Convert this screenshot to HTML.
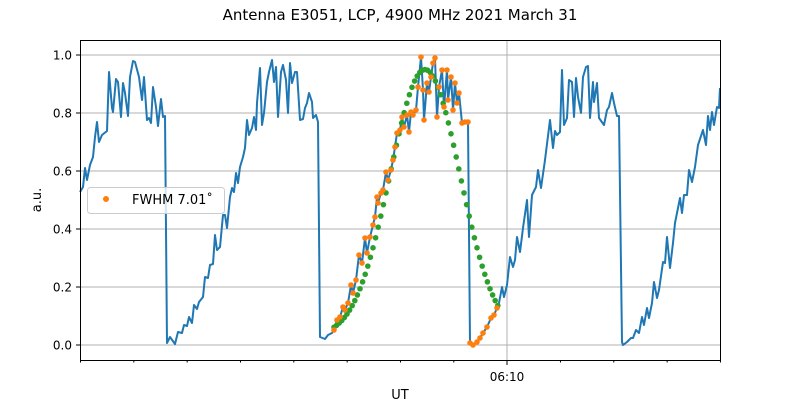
<!DOCTYPE html>
<html><head><meta charset="utf-8"><style>
html,body{margin:0;padding:0;background:#fff;}
svg{display:block;font-family:"DejaVu Sans","Liberation Sans",sans-serif;}
</style></head><body>
<svg id="s" width="800" height="400" viewBox="0 0 800 400" xmlns="http://www.w3.org/2000/svg">
<rect width="800" height="400" fill="#fff"/>
<text x="400" y="20" font-size="15" text-anchor="middle">Antenna E3051, LCP, 4900 MHz 2021 March 31</text>
<g id="grid" stroke="#b0b0b0" stroke-width="1"></g>
<g id="data"></g>
<rect x="80.5" y="40.5" width="640" height="320" fill="none" stroke="#000" stroke-width="1"/>
<g id="ticks" stroke="#000" stroke-width="1"></g>
<g id="labels" font-size="12" fill="#000"></g>
<text x="507" y="381" font-size="12" text-anchor="middle">06:10</text>
<text x="400" y="400" font-size="13" text-anchor="middle" dy="-1">UT</text>
<text transform="translate(41,200) rotate(-90)" font-size="13" text-anchor="middle">a.u.</text>
<rect x="87.5" y="187.5" width="137" height="26" rx="3" fill="#fff" fill-opacity="0.8" stroke="#ccc"/>
<circle cx="106" cy="199" r="3" fill="#ff7f0e"/>
<text x="132" y="204" font-size="13">FWHM 7.01˚</text>
</svg>
<script>
var NS="http://www.w3.org/2000/svg";
function el(t,a,p){var e=document.createElementNS(NS,t);for(var k in a)e.setAttribute(k,a[k]);document.getElementById(p).appendChild(e);return e;}
for(var i=0;i<=5;i++){var v=i*0.2,y=345-v*290;
 el("line",{x1:80,x2:720,y1:y,y2:y},"grid");
 el("line",{x1:76,x2:80,y1:y,y2:y},"ticks");
 var t=el("text",{x:72,y:y+4.5,"text-anchor":"end"},"labels");t.textContent=v.toFixed(1);}
el("line",{x1:507,x2:507,y1:40,y2:360},"grid");
el("line",{x1:507,x2:507,y1:360,y2:365},"ticks");
for(var i=0;i<=12;i++){var x=80.5+i*53.33;if(i==8)continue;el("line",{x1:x,x2:x,y1:360,y2:362.5},"ticks");}
var P=[[80,192],[83,187],[85,168],[87,180],[90,165],[93,157],[95,137],[97,122],[99,142],[102,135],[107,131],[109,72],[112,108],[113,112],[116,79],[118,82],[121,117],[123,83],[125,93],[128,116],[130,77],[133,61],[135,62],[139,77],[142,100],[144,77],[147,120],[149,118],[151,123],[153,87],[156,107],[158,126],[161,99],[163,117],[165,116],[167,343],[170,337],[175,344],[178,332],[182,333],[184,325],[187,326],[189,317],[192,323],[194,305],[197,309],[199,302],[203,297],[205,277],[208,278],[210,265],[213,264],[215,235],[217,250],[220,247],[223,215],[225,215],[227,228],[230,197],[232,188],[234,192],[236,173],[238,183],[240,167],[243,157],[245,148],[247,120],[249,135],[252,128],[254,117],[256,130],[257,103],[260,68],[262,125],[264,113],[267,82],[269,72],[272,60],[274,82],[276,67],[278,117],[281,72],[283,65],[286,80],[288,113],[290,63],[292,83],[295,72],[297,72],[300,120],[303,119],[305,108],[307,103],[309,93],[312,102],[313,118],[316,115],[318,122],[320,337],[325,339],[328,335],[332,333],
[334,330],[337,320],[340,317],[343,307],[345,310],[348,303],[351,285],[353,293],[356,280],[359,255],[362,263],[365,238],[367,253],[370,237],[373,225],[375,217],[377,197],[378,203],[381,193],[383,190],[386,172],[388,180],[391,170],[393,160],[395,147],[397,133],[400,130],[402,117],[404,127],[407,115],[409,132],[411,112],[413,115],[416,110],[418,87],[421,57],[423,90],[424,120],[427,83],[429,92],[431,77],[433,63],[435,58],[437,117],[439,87],[442,70],[444,107],[447,70],[448,100],[451,77],[453,110],[455,83],[457,103],[459,93],[462,123],[465,122],[468,122],[470,343],[473,345],[477,342],[480,338],[483,333],[487,327],[491,318],[494,315],[497,308],
[499,303],[502,287],[504,297],[507,285],[510,257],[513,267],[515,260],[517,237],[520,252],[523,228],[527,200],[529,237],[532,195],[536,187],[538,170],[541,188],[545,160],[550,120],[553,148],[555,131],[557,135],[560,132],[562,70],[564,125],[567,118],[569,80],[572,82],[574,117],[576,78],[578,97],[581,113],[583,77],[586,67],[588,66],[590,118],[593,82],[594,102],[597,83],[599,118],[604,125],[607,110],[609,107],[612,93],[614,103],[617,116],[619,116],[622,342],[623,345],[627,342],[631,338],[633,338],[636,330],[639,333],[642,317],[644,325],[647,308],[649,318],[652,303],[654,282],[657,298],[659,290],[663,262],[665,263],[667,237],[670,268],[673,243],[675,223],[680,198],[682,213],[684,195],[687,195],[689,170],[692,182],[695,167],[698,145],[703,130],[706,145],[708,116],[710,130],[712,112],[714,125],[717,107],[719,108],[720,88]];
el("polyline",{points:P.map(function(p){return p.join(",")}).join(" "),fill:"none",stroke:"#1f77b4","stroke-width":2,"stroke-linejoin":"round"},"data");
for(var x=334;x<=498;x+=2.6){var v=0.03+0.92*Math.exp(-Math.pow(x-425,2)/(2*35*35));el("circle",{cx:x,cy:345-v*290,r:2.8,fill:"#2ca02c"},"data");}
P.forEach(function(p){if(p[0]>=334&&p[0]<=497)el("circle",{cx:p[0],cy:p[1],r:2.8,fill:"#ff7f0e"},"data");});
</script>
</body></html>
